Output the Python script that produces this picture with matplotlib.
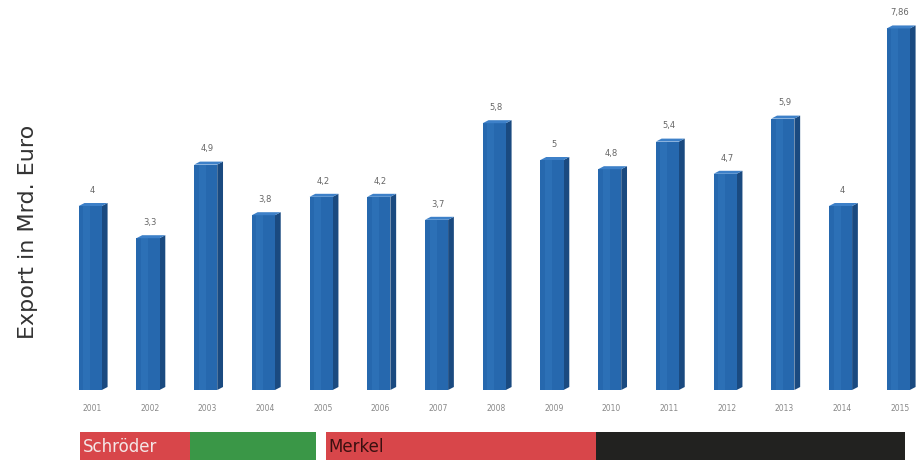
import matplotlib
matplotlib.use("Agg")
import matplotlib.pyplot as plt
from matplotlib.patches import Polygon, Rectangle
import numpy as np

years = ["2001", "2002", "2003", "2004", "2005", "2006", "2007", "2008",
         "2009", "2010", "2011", "2012", "2013", "2014", "2015"]
values = [4, 3.3, 4.9, 3.8, 4.2, 4.2, 3.7, 5.8, 5, 4.8, 5.4, 4.7, 5.9, 4, 7.86]
value_labels = ["4", "3,3", "4,9", "3,8", "4,2", "4,2", "3,7", "5,8", "5", "4,8",
                "5,4", "4,7", "5,9", "4", "7,86"]

# chancellor strip segments (start, end in bar-index units), colour, label
strip_starts = [-0.21, 1.70, 4.05, 8.73]
strip_ends = [1.70, 3.88, 8.73, 14.09]
strip_colors = ["#d8464a", "#3a9747", "#d8464a", "#222220"]
strip_labels = ["Schröder", "", "Merkel", ""]
strip_text_colors = ["#f4e6e6", "", "#3a1010", ""]

W, H = 919, 462
fig = plt.figure(figsize=(W / 100, H / 100), dpi=100)
fig.patch.set_facecolor("white")

# main axes
ax_left, ax_right = 62, 919
ax_bottom_px = H - 390  # baseline
ax = fig.add_axes([ax_left / W, ax_bottom_px / H, (ax_right - ax_left) / W, (H - ax_bottom_px) / H])
px_per_unit = (900 - 92) / 14
ax.set_xlim((ax_left - 92) / px_per_unit, (ax_right - 92) / px_per_unit)
ax.set_ylim(0, 390 / 46.0)
ax.axis("off")

x = np.arange(len(values))
bw = 0.40
depth_x = 0.10
depth_y = 3 / 46.0

front = "#2668ae"
side = "#1a4a80"
topc = "#3d80c8"

ax.bar(x - 0.03, values, width=bw, color=front, zorder=3)
for xi, v, lab in zip(x, values, value_labels):
    x0 = xi - 0.03 - bw / 2
    x1 = xi - 0.03 + bw / 2
    # side face
    ax.add_patch(Polygon([(x1, 0), (x1 + depth_x, depth_y), (x1 + depth_x, v + depth_y), (x1, v)],
                         closed=True, facecolor=side, edgecolor="none", zorder=2))
    # top face
    ax.add_patch(Polygon([(x0, v), (x0 + depth_x, v + depth_y), (x1 + depth_x, v + depth_y), (x1, v)],
                         closed=True, facecolor=topc, edgecolor="none", zorder=4))
    # highlight stripe on front
    ax.add_patch(Rectangle((x0 + bw * 0.2, 0), bw * 0.3, v, facecolor="#3176bd",
                           edgecolor="none", zorder=3.5, alpha=0.6))
    ax.text(xi, v + depth_y + 0.18, lab, ha="center", va="bottom", fontsize=6,
            color="#666666", zorder=5)
    ax.text(xi, -0.4, years[xi], ha="center", va="center", fontsize=5.5,
            color="#888888", clip_on=False)

fig.text(28 / W, 1 - 232 / H, "Export in Mrd. Euro", rotation=90, ha="center", va="center",
         fontsize=16, color="#333333")

# strip axes
sax = fig.add_axes([ax_left / W, 2 / H, (ax_right - ax_left) / W, 28 / H])
sax.set_xlim(ax.get_xlim())
sax.set_ylim(0, 1)
sax.axis("off")
for s, e, c, lab, tc in zip(strip_starts, strip_ends, strip_colors, strip_labels, strip_text_colors):
    sax.add_patch(Rectangle((s, 0), e - s, 1, facecolor=c, edgecolor="none"))
    if lab:
        sax.text(s + 0.05, 0.45, lab, ha="left", va="center", fontsize=12, color=tc)

fig.savefig("out.png", dpi=100, facecolor="white")
